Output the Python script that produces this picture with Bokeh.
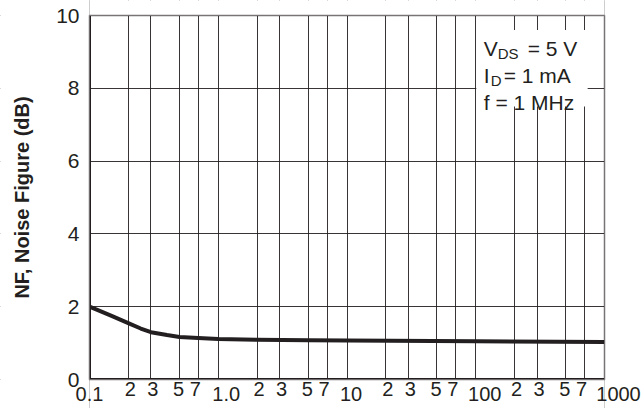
import math
from bokeh.plotting import figure
from bokeh.models import Range1d, FixedTicker, Label, BoxAnnotation
from bokeh.embed import file_html
from bokeh.resources import INLINE

# ---- data ----
freq_khz = [0.1, 0.15, 0.2, 0.25, 0.3, 0.4, 0.5, 0.7, 1.0, 2.0, 5.0, 10.0, 100.0, 1000.0]
nf_db = [2.0, 1.74, 1.55, 1.40, 1.30, 1.22, 1.17, 1.14, 1.11, 1.09, 1.08, 1.07, 1.05, 1.03]

decade_ticks = [0.1, 1.0, 10.0, 100.0, 1000.0]
decade_labels = ["0.1", "1.0", "10", "100", "1000"]
minor_ticks = [0.2, 0.3, 0.5, 0.7, 2, 3, 5, 7, 20, 30, 50, 70, 200, 300, 500, 700]
minor_labels = ["2", "3", "5", "7"] * 4
y_ticks = [0, 2, 4, 6, 8, 10]
y_tick_labels = ["0", "2", "4", "6", "8", "10"]
y_title = "NF, Noise Figure (dB)"

X_MIN, X_MAX = 0.1, 1000
Y_MIN, Y_MAX = 0, 10

INK = "#231F20"
FONT = "Liberation Sans"

# ---- layout (pixels) ----
W, H = 644, 408
BOX_L, BOX_R, BOX_T, BOX_B = 89, 604, 15, 379
# the frame fills the whole canvas so that every label (drawn as annotation)
# stays inside it; the visible plot box is X_MIN..X_MAX x Y_MIN..Y_MAX
dec_px = (BOX_R - BOX_L) / math.log10(X_MAX / X_MIN)
x_start = X_MIN / 10 ** (BOX_L / dec_px)
x_end = X_MAX * 10 ** ((W - BOX_R) / dec_px)
unit_px = (BOX_B - BOX_T) / (Y_MAX - Y_MIN)
y_end = Y_MAX + BOX_T / unit_px
y_start = Y_MIN - (H - BOX_B) / unit_px

p = figure(width=W, height=H, x_axis_type="log",
           x_range=Range1d(x_start, x_end), y_range=Range1d(y_start, y_end),
           output_backend="svg", toolbar_location=None,
           min_border=0)
p.background_fill_color = "white"
p.border_fill_color = "white"
p.outline_line_color = None
p.xaxis.visible = False
p.yaxis.visible = False

p.xgrid.ticker = FixedTicker(ticks=sorted(decade_ticks + minor_ticks))
p.ygrid.ticker = FixedTicker(ticks=y_ticks)
for g in (p.xgrid, p.ygrid):
    g.grid_line_color = INK
    g.grid_line_width = 1
    g.grid_line_alpha = 0.9

# white covers so grid lines only show inside the plot box
for l, r, b, t in [(x_start, X_MIN, y_start, y_end), (X_MAX, x_end, y_start, y_end),
                   (X_MIN, X_MAX, y_start, Y_MIN), (X_MIN, X_MAX, Y_MAX, y_end)]:
    p.add_layout(BoxAnnotation(left=l, right=r, bottom=b, top=t,
                               fill_color="white", fill_alpha=1, line_color=None))

# curve
p.line(freq_khz, nf_db, line_width=4, line_color=INK, line_join="round", line_cap="round")

# plot box border, heavier left and bottom axis lines
p.add_layout(BoxAnnotation(left=X_MIN, right=X_MAX, bottom=Y_MIN, top=Y_MAX,
                           fill_alpha=0, line_color=INK, line_width=2))
p.line([X_MIN, X_MIN, X_MAX], [Y_MAX, Y_MIN, Y_MIN], line_width=3, line_color=INK)

def lab(x, y, text, dx=0, dy=0, size="21px", align="left", baseline="alphabetic",
        angle=0, style="normal"):
    p.add_layout(Label(x=x, y=y, text=text, x_offset=dx, y_offset=dy, angle=angle,
                       text_font=FONT, text_font_size=size, text_color=INK,
                       text_align=align, text_baseline=baseline,
                       text_font_style=style))

# x tick labels (minor digits sit higher, decade values lower)
minor_dx = [2, 2, -1, -3] * 4
for t, s, dx in zip(minor_ticks, minor_labels, minor_dx):
    lab(t, Y_MIN, s, dx, -2, "20px", "center", "top")
dec_dx = [0, 8, 4, 9, 14]
for t, s, dx in zip(decade_ticks, decade_labels, dec_dx):
    lab(t, Y_MIN, s, dx, -7, "20px", "center", "top")

# y tick labels and title
for t, s in zip(y_ticks, y_tick_labels):
    lab(X_MIN, t, s, -10, 0, "21px", "right", "middle")
lab(X_MIN, (Y_MIN + Y_MAX) / 2, y_title, -68, 0, "20px", "center", "middle",
    angle=math.pi / 2, style="bold")

# condition box
p.add_layout(BoxAnnotation(left=101, right=740, top=9.6, bottom=7.5,
                           fill_color="white", fill_alpha=1, line_color=None))
lab(100, 9.093, "V", 8)
lab(100, 9.093, "DS", 22, -5, "15px")
lab(100, 9.093, "= 5 V", 52)
lab(100, 8.352, "I", 8)
lab(100, 8.352, "D", 15, -5, "15px")
lab(100, 8.352, "= 1 mA", 28)
lab(100, 7.618, "f = 1 MHz", 8)

open("out.html", "w").write(file_html(p, INLINE))
